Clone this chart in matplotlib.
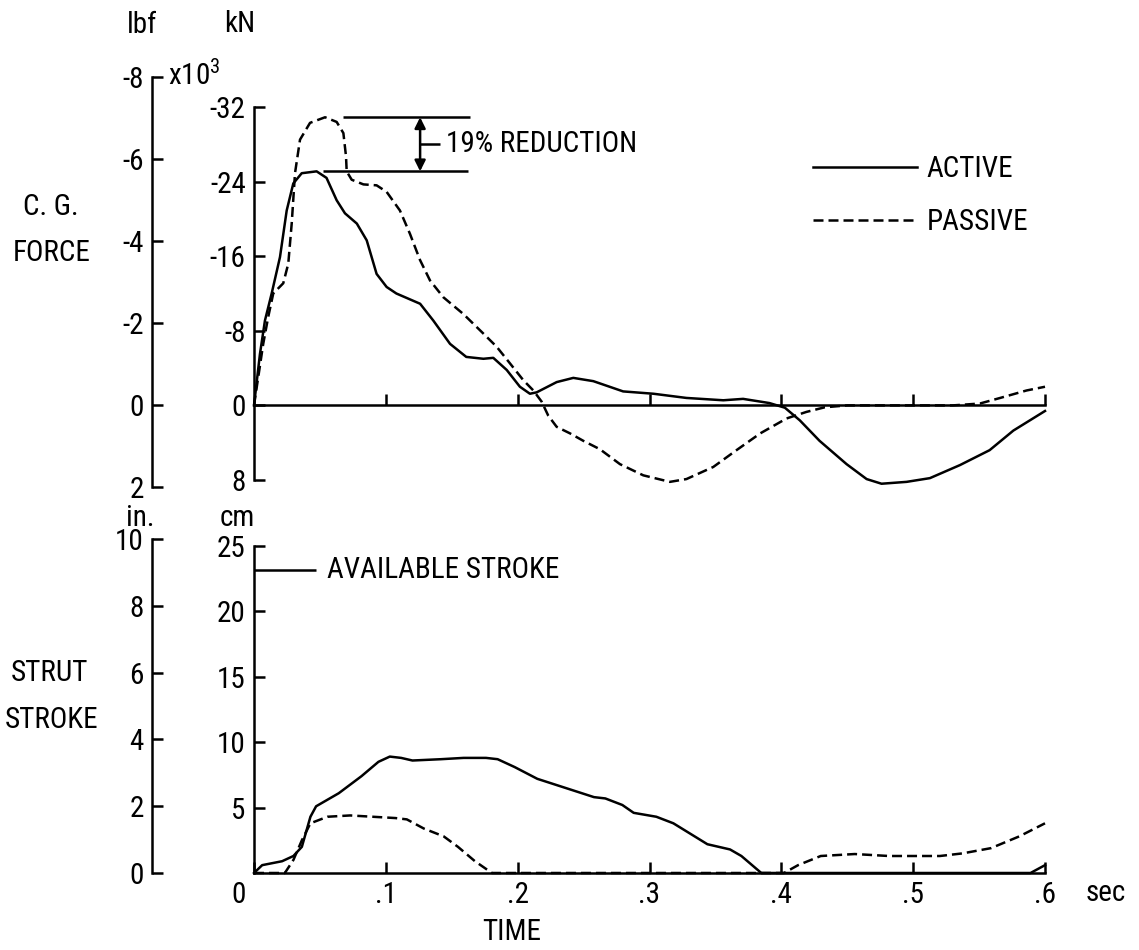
import matplotlib
matplotlib.use('Agg')
import matplotlib.pyplot as plt
from matplotlib.lines import Line2D
from matplotlib.transforms import ScaledTranslation

plt.rcParams['font.family'] = ['Roboto Condensed', 'Roboto', 'DejaVu Sans']
plt.rcParams['font.size'] = 21
plt.rcParams['mathtext.default'] = 'regular'

# C.G. force (kN)
force_t_active = [0, 0.0045, 0.0083, 0.0134, 0.0197, 0.0248, 0.0298, 0.0362, 0.0475, 0.055,
                  0.0627, 0.069, 0.078, 0.0855, 0.093, 0.1006, 0.108, 0.126, 0.136, 0.1487,
                  0.161, 0.174, 0.1815, 0.1917, 0.2017, 0.2093, 0.2144, 0.2296, 0.2422, 0.2574,
                  0.28, 0.303, 0.328, 0.356, 0.371, 0.391, 0.4027, 0.414, 0.429, 0.4495,
                  0.4647, 0.476, 0.495, 0.5127, 0.5355, 0.558, 0.576, 0.6]
force_active = [0, -5.5, -9.1, -12.0, -15.9, -20.9, -23.8, -24.9, -25.1, -24.4,
                -22.0, -20.6, -19.5, -17.7, -14.1, -12.7, -12.0, -10.9, -9.1, -6.6,
                -5.2, -5.0, -5.1, -3.8, -2.0, -1.25, -1.4, -2.5, -2.95, -2.6,
                -1.5, -1.25, -0.8, -0.55, -0.7, -0.25, 0.25, 1.6, 3.8, 6.3,
                7.9, 8.4, 8.2, 7.8, 6.4, 4.8, 2.7, 0.6]
force_t_passive = [0, 0.007, 0.0108, 0.0146, 0.0222, 0.026, 0.0286, 0.0311, 0.0349, 0.0425,
                   0.0539, 0.0627, 0.0678, 0.0698, 0.0703, 0.0741, 0.083, 0.093, 0.1006, 0.1107,
                   0.1183, 0.1259, 0.1335, 0.1436, 0.1588, 0.174, 0.184, 0.1942, 0.2043, 0.2119,
                   0.2182, 0.2232, 0.2296, 0.2397, 0.2498, 0.2624, 0.2776, 0.2953, 0.3155, 0.328,
                   0.3484, 0.366, 0.384, 0.404, 0.419, 0.433, 0.45, 0.53, 0.5506, 0.566,
                   0.586, 0.6]
force_passive = [0, -6.6, -9.5, -12.0, -13.1, -15.2, -19.5, -24.9, -28.5, -30.3,
                 -30.9, -30.4, -29.2, -26.7, -25.1, -24.2, -23.7, -23.6, -22.9, -20.9,
                 -18.4, -15.6, -13.4, -11.6, -9.8, -7.7, -6.3, -4.5, -2.7, -1.6,
                 -0.4, 1.1, 2.3, 3.0, 3.8, 4.7, 6.3, 7.5, 8.2, 7.9,
                 6.6, 4.8, 3.0, 1.4, 0.7, 0.2, 0, 0, -0.2, -0.8,
                 -1.6, -2.0]

# strut stroke (cm)
stroke_t_active = [0, 0.0062, 0.0213, 0.0299, 0.0363, 0.0428, 0.0471, 0.0643, 0.0815, 0.0944,
                   0.103, 0.1116, 0.1202, 0.1417, 0.159, 0.176, 0.1848, 0.1977, 0.2149, 0.2364,
                   0.2579, 0.2665, 0.2794, 0.288, 0.3052, 0.3181, 0.331, 0.3439, 0.3611, 0.3697,
                   0.3848, 0.589, 0.6]
stroke_active = [0, 0.6, 0.9, 1.3, 2.0, 4.3, 5.1, 6.1, 7.4, 8.5,
                 8.9, 8.8, 8.6, 8.7, 8.8, 8.8, 8.7, 8.1, 7.2, 6.5,
                 5.8, 5.7, 5.2, 4.6, 4.3, 3.8, 3.0, 2.2, 1.8, 1.3,
                 0, 0, 0.6]
stroke_t_passive = [0, 0.0234, 0.0299, 0.0363, 0.0428, 0.0557, 0.0729, 0.0901, 0.1073, 0.1159,
                    0.1288, 0.1439, 0.1547, 0.1676, 0.1805, 0.402, 0.4127, 0.4299, 0.4557, 0.4815,
                    0.5203, 0.5375, 0.559, 0.5805, 0.6]
stroke_passive = [0, 0, 1.0, 2.5, 3.8, 4.3, 4.4, 4.3, 4.2, 4.1,
                  3.4, 2.8, 2.0, 0.9, 0, 0, 0.6, 1.3, 1.45, 1.3,
                  1.3, 1.5, 1.9, 2.8, 3.8]

peak_passive = -30.9
peak_active = -25.1
available_stroke = 23.2

time_ticks = [0, 0.1, 0.2, 0.3, 0.4, 0.5, 0.6]
time_labels = ['0', '.1', '.2', '.3', '.4', '.5', '.6']
kn_ticks = [-32, -24, -16, -8, 0, 8]
lbf_ticks = [-8, -6, -4, -2, 0, 2]
cm_ticks = [5, 10, 15, 20, 25]
in_ticks = [0, 2, 4, 6, 8, 10]

W, H = 1139, 950
fig = plt.figure(figsize=(W / 100, H / 100), dpi=100)
LW = 1.8


def px_axes(x0, y0, x1, y1):
    return fig.add_axes([x0 / W, 1 - y1 / H, (x1 - x0) / W, (y1 - y0) / H])


def only_left(ax, ticks, labels, lims):
    ax.patch.set_visible(False)
    for s in ['top', 'right', 'bottom']:
        ax.spines[s].set_visible(False)
    ax.spines['left'].set_linewidth(LW)
    ax.set_xticks([])
    ax.set_ylim(*lims)
    ax.set_yticks(ticks)
    ax.set_yticklabels(labels)
    ax.tick_params(axis='y', direction='in', length=8, width=LW, pad=6)


dash = (0, (4, 2))

# ---- force panel ----
ax1 = px_axes(254, 107, 1045, 480)
ax_lbf = px_axes(152, 77, 162, 487)
only_left(ax_lbf, lbf_ticks, [str(v) for v in lbf_ticks], (2, -8))

ax1.patch.set_visible(False)
ax1.set_xlim(0, 0.6)
ax1.set_ylim(8, -32)
ax1.spines['top'].set_visible(False)
ax1.spines['right'].set_visible(False)
ax1.spines['bottom'].set_position(('data', 0))
ax1.spines['bottom'].set_linewidth(LW)
ax1.spines['left'].set_linewidth(LW)
ax1.set_xticks(time_ticks[1:])
ax1.tick_params(axis='x', direction='in', length=8, width=LW, labelbottom=False)
ax1.set_yticks(kn_ticks)
ax1.set_yticklabels([str(v) for v in kn_ticks])
ax1.tick_params(axis='y', direction='in', length=8, width=LW, pad=6)

ax1.plot(force_t_active, force_active, 'k-', lw=LW, clip_on=False)
ax1.plot(force_t_passive, force_passive, color='k', ls=dash, lw=LW, clip_on=False)

ax1.hlines(peak_passive, 0.0675, 0.164, color='k', lw=LW)
ax1.hlines(peak_active, 0.052, 0.162, color='k', lw=LW)
ax1.annotate('', xy=(0.126, peak_passive), xytext=(0.126, peak_active),
             arrowprops=dict(arrowstyle='<|-|>', color='k', lw=LW, mutation_scale=16,
                             shrinkA=0, shrinkB=0))
mid = (peak_passive + peak_active) / 2
ax1.hlines(mid, 0.126, 0.141, color='k', lw=LW)
ax1.text(0.146, mid, '19% REDUCTION', va='center', ha='left')

handles = [Line2D([], [], color='k', lw=LW),
           Line2D([], [], color='k', lw=LW, ls=dash)]
ax1.legend(handles, ['ACTIVE', 'PASSIVE'], loc='upper left', frameon=False,
           bbox_to_anchor=(813 / W, 1 - 155 / H), bbox_transform=fig.transFigure,
           borderaxespad=0, borderpad=0, handlelength=3.56, handletextpad=0.34,
           labelspacing=0.86)

fig.text(168 / W, 1 - 75 / H, 'x10$^{3}$', ha='left', va='center')
fig.text(142 / W, 1 - 25 / H, 'lbf', ha='center', va='center')
fig.text(240 / W, 1 - 24 / H, 'kN', ha='center', va='center')
fig.text(51 / W, 1 - 207 / H, 'C. G.', ha='center', va='center')
fig.text(52 / W, 1 - 253 / H, 'FORCE', ha='center', va='center')

# ---- stroke panel ----
ax2 = px_axes(254, 546, 1045, 873)
ax_in = px_axes(152, 539, 162, 873)
only_left(ax_in, in_ticks, [str(v) for v in in_ticks], (0, 10))

ax2.patch.set_visible(False)
ax2.set_xlim(0, 0.6)
ax2.set_ylim(0, 25)
ax2.spines['top'].set_visible(False)
ax2.spines['right'].set_visible(False)
ax2.spines['bottom'].set_linewidth(LW)
ax2.spines['left'].set_linewidth(LW)
ax2.set_xticks(time_ticks)
ax2.set_xticklabels(time_labels)
ax2.tick_params(axis='x', direction='in', length=8, width=LW, pad=6)
ax2.set_yticks(cm_ticks)
ax2.set_yticklabels([str(v) for v in cm_ticks])
ax2.tick_params(axis='y', direction='in', length=8, width=LW, pad=6)
lab0 = ax2.get_xticklabels()[0]
lab0.set_transform(lab0.get_transform() + ScaledTranslation(-0.15, 0, fig.dpi_scale_trans))

ax2.plot(stroke_t_active, stroke_active, 'k-', lw=LW, clip_on=False)
ax2.plot(stroke_t_passive, stroke_passive, color='k', ls=dash, lw=LW, clip_on=False)

ax2.hlines(available_stroke, 0, 0.047, color='k', lw=LW)
ax2.text(0.055, available_stroke, 'AVAILABLE STROKE', va='center', ha='left')

fig.text(140 / W, 1 - 504 / H, 'in.', ha='center', va='top')
fig.text(237 / W, 1 - 504 / H, 'cm', ha='center', va='top')
fig.text(49 / W, 1 - 673 / H, 'STRUT', ha='center', va='center')
fig.text(52 / W, 1 - 720 / H, 'STROKE', ha='center', va='center')
fig.text(1086 / W, 1 - 893 / H, 'sec', ha='left', va='center')
fig.text(512 / W, 1 - 932 / H, 'TIME', ha='center', va='center')

plt.savefig('out.png', dpi=100)
